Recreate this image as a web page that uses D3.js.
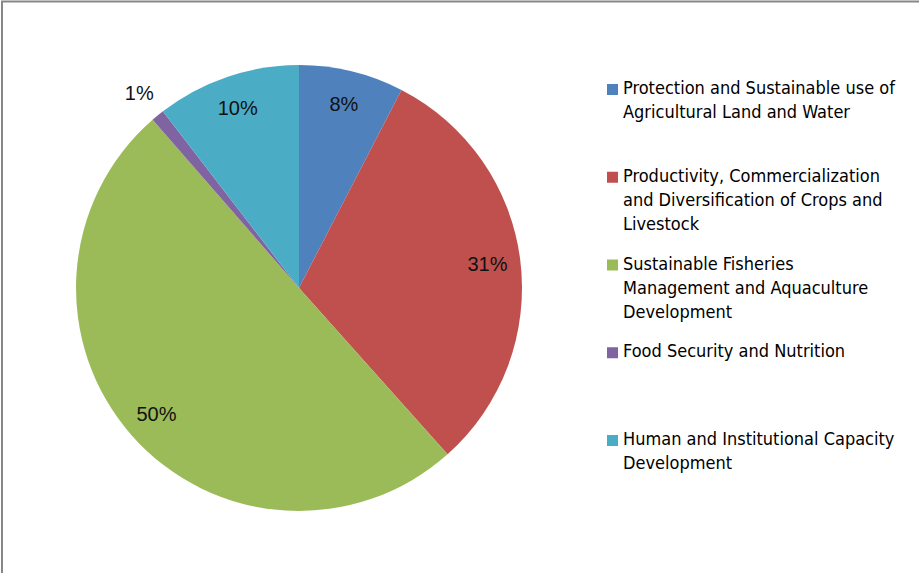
<!DOCTYPE html>
<html>
<head>
<meta charset="utf-8">
<script src="https://cdn.jsdelivr.net/npm/d3@7"></script>
<style>
  html, body { margin: 0; padding: 0; background: #fff; }
  svg { display: block; }
</style>
</head>
<body>
<svg id="chart" width="919" height="573"></svg>
<script>
// ---- data ----
const categories = [
  "Protection and Sustainable use of\nAgricultural Land and Water",
  "Productivity, Commercialization\nand Diversification of Crops and\nLivestock",
  "Sustainable Fisheries\nManagement and Aquaculture\nDevelopment",
  "Food Security and Nutrition",
  "Human and Institutional Capacity\nDevelopment"
];
const shares = [7.6, 30.8, 50.2, 0.95, 10.45];
const colors = ["#4F81BD", "#C0504D", "#9BBB59", "#8064A2", "#4BACC6"];

// ---- layout ----
const svg = d3.select("#chart");
const W = 919, H = 573;
const cx = 299, cy = 288, R = 223;

// frame
svg.append("line").attr("x1", 2).attr("y1", 1).attr("x2", 2).attr("y2", H)
  .attr("stroke", "#878787").attr("stroke-width", 2);
svg.append("line").attr("x1", 1).attr("y1", 1.5).attr("x2", W).attr("y2", 1.5)
  .attr("stroke", "#878787").attr("stroke-width", 2);

const total = d3.sum(shares);
const pie = d3.pie().sort(null).value(d => d)(shares);
const arc = d3.arc().innerRadius(0).outerRadius(R);
const labelArc = d3.arc().innerRadius(190).outerRadius(190);
const outArc = d3.arc().innerRadius(R + 29).outerRadius(R + 29);
const fmt = d3.format(".0%");

const g = svg.append("g").attr("transform", `translate(${cx},${cy})`);
g.selectAll("path.slice").data(pie).join("path")
  .attr("class", "slice")
  .attr("d", arc)
  .attr("fill", (d, i) => colors[i]);

g.selectAll("text.lbl").data(pie).join("text")
  .attr("class", "lbl")
  .attr("transform", d => {
    const c = (d.value / total < 0.02 ? outArc : labelArc).centroid(d);
    return `translate(${c[0]},${c[1]})`;
  })
  .attr("text-anchor", "middle")
  .attr("dy", "0.36em")
  .attr("font-family", "'Liberation Sans', Arial, sans-serif")
  .attr("font-size", 20)
  .attr("fill", "#111")
  .text(d => fmt(d.value / total));

// legend
const legX = 607, legY0 = 94, legStep = 87.75, lineH = 24;
const leg = svg.append("g");
categories.forEach((name, i) => {
  const y = legY0 + i * legStep;
  leg.append("rect")
    .attr("x", legX).attr("y", y - 10).attr("width", 11).attr("height", 11)
    .attr("fill", colors[i]);
  const t = leg.append("text")
    .attr("x", legX + 16).attr("y", y)
    .attr("font-family", "'Liberation Sans Narrow', 'DejaVu Sans Condensed', sans-serif")
    .attr("font-size", 18)
    .attr("fill", "#000");
  name.split("\n").forEach((ln, k) => {
    t.append("tspan").attr("x", legX + 16).attr("y", y + k * lineH).text(ln);
  });
});
</script>
</body>
</html>
